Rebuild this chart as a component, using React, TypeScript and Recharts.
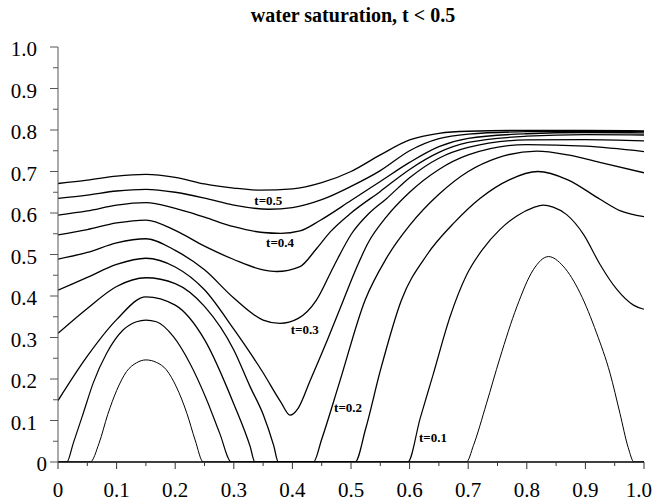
import React from 'react';
import { LineChart, Line, XAxis, YAxis, ReferenceDot } from 'recharts';

const FONT = '"Liberation Serif", "Times New Roman", serif';

// ticks every 0.05, labels on every 0.1
const axisTicks = [0, 0.05, 0.1, 0.15, 0.2, 0.25, 0.3, 0.35, 0.4, 0.45, 0.5, 0.55, 0.6, 0.65, 0.7, 0.75, 0.8, 0.85, 0.9, 0.95, 1.0];
const tickLabels = ['0', '0.1', '0.2', '0.3', '0.4', '0.5', '0.6', '0.7', '0.8', '0.9', '1.0'];

// saturation profiles, [x, s]
const curveT50 = [[0, 0.671], [0.05, 0.679], [0.1, 0.689], [0.15, 0.693], [0.2, 0.686], [0.25, 0.67], [0.3, 0.66], [0.345, 0.655], [0.4, 0.658], [0.45, 0.673], [0.5, 0.7], [0.55, 0.74], [0.6, 0.776], [0.65, 0.792], [0.7, 0.797], [0.8, 0.799], [0.9, 0.799], [1, 0.798]];
const curveT45 = [[0, 0.635], [0.05, 0.643], [0.1, 0.653], [0.15, 0.657], [0.2, 0.65], [0.25, 0.636], [0.3, 0.619], [0.36, 0.609], [0.4, 0.613], [0.45, 0.632], [0.5, 0.664], [0.55, 0.702], [0.6, 0.75], [0.65, 0.779], [0.7, 0.79], [0.8, 0.796], [0.9, 0.797], [1, 0.796]];
const curveT40 = [[0, 0.595], [0.05, 0.605], [0.1, 0.619], [0.15, 0.625], [0.2, 0.611], [0.25, 0.59], [0.3, 0.567], [0.35, 0.553], [0.38, 0.551], [0.413, 0.557], [0.447, 0.582], [0.5, 0.63], [0.55, 0.676], [0.6, 0.722], [0.65, 0.76], [0.7, 0.78], [0.8, 0.791], [0.9, 0.794], [1, 0.793]];
const curveT35 = [[0, 0.547], [0.05, 0.56], [0.1, 0.576], [0.15, 0.583], [0.2, 0.558], [0.25, 0.52], [0.3, 0.488], [0.35, 0.463], [0.373, 0.459], [0.413, 0.471], [0.44, 0.512], [0.465, 0.555], [0.5, 0.6], [0.55, 0.652], [0.6, 0.705], [0.65, 0.746], [0.7, 0.77], [0.8, 0.785], [0.9, 0.789], [1, 0.788]];
const curveT30 = [[0, 0.489], [0.05, 0.505], [0.1, 0.528], [0.15, 0.538], [0.2, 0.51], [0.25, 0.463], [0.3, 0.395], [0.35, 0.342], [0.379, 0.334], [0.41, 0.346], [0.441, 0.39], [0.47, 0.47], [0.501, 0.55], [0.53, 0.598], [0.56, 0.634], [0.6, 0.685], [0.65, 0.732], [0.7, 0.758], [0.8, 0.776], [0.9, 0.777], [1, 0.774]];
const curveT25 = [[0, 0.414], [0.05, 0.445], [0.1, 0.476], [0.15, 0.491], [0.2, 0.47], [0.25, 0.415], [0.3, 0.32], [0.35, 0.215], [0.38, 0.145], [0.396, 0.113], [0.41, 0.13], [0.43, 0.195], [0.46, 0.295], [0.487, 0.39], [0.51, 0.47], [0.53, 0.53], [0.56, 0.59], [0.6, 0.65], [0.65, 0.705], [0.7, 0.74], [0.8, 0.765], [0.9, 0.761], [1, 0.748]];
const curveT20 = [[0, 0.31], [0.05, 0.37], [0.1, 0.423], [0.15, 0.444], [0.2, 0.43], [0.25, 0.375], [0.3, 0.27], [0.328, 0.181], [0.35, 0.115], [0.368, 0.04], [0.376, 0], [0.436, 0], [0.45, 0.055], [0.48, 0.19], [0.524, 0.39], [0.56, 0.49], [0.6, 0.57], [0.65, 0.645], [0.7, 0.7], [0.75, 0.733], [0.817, 0.749], [0.87, 0.74], [0.93, 0.72], [1, 0.697]];
const curveT15 = [[0, 0.148], [0.05, 0.255], [0.1, 0.343], [0.15, 0.398], [0.2, 0.378], [0.25, 0.295], [0.3, 0.14], [0.328, 0.037], [0.336, 0], [0.507, 0], [0.525, 0.08], [0.55, 0.22], [0.586, 0.39], [0.63, 0.5], [0.677, 0.578], [0.72, 0.635], [0.77, 0.68], [0.819, 0.7], [0.87, 0.68], [0.925, 0.633], [0.96, 0.605], [1, 0.591]];
const curveT10 = [[0, 0], [0.015, 0], [0.026, 0.045], [0.043, 0.117], [0.06, 0.19], [0.083, 0.262], [0.111, 0.318], [0.134, 0.338], [0.15, 0.342], [0.168, 0.338], [0.197, 0.302], [0.225, 0.238], [0.254, 0.149], [0.276, 0.069], [0.296, 0], [0.597, 0], [0.618, 0.105], [0.64, 0.21], [0.669, 0.35], [0.697, 0.45], [0.726, 0.515], [0.754, 0.56], [0.783, 0.593], [0.811, 0.613], [0.828, 0.619], [0.845, 0.614], [0.868, 0.596], [0.897, 0.548], [0.925, 0.476], [0.953, 0.417], [0.982, 0.378], [1, 0.368]];
const curveT05 = [[0, 0], [0.055, 0], [0.07, 0.045], [0.085, 0.115], [0.1, 0.172], [0.117, 0.218], [0.134, 0.239], [0.15, 0.246], [0.168, 0.24], [0.185, 0.222], [0.202, 0.181], [0.22, 0.117], [0.234, 0.053], [0.248, 0], [0.697, 0], [0.709, 0.04], [0.731, 0.14], [0.754, 0.25], [0.783, 0.374], [0.811, 0.463], [0.837, 0.495], [0.862, 0.472], [0.891, 0.407], [0.919, 0.311], [0.942, 0.214], [0.959, 0.117], [0.973, 0.035], [0.983, 0], [1, 0]];

const series = [
  { id: 't50', points: curveT50, width: 1.3 },
  { id: 't45', points: curveT45, width: 1.3 },
  { id: 't40', points: curveT40, width: 1.3 },
  { id: 't35', points: curveT35, width: 1.3 },
  { id: 't30', points: curveT30, width: 1.3 },
  { id: 't25', points: curveT25, width: 1.3 },
  { id: 't20', points: curveT20, width: 1.3 },
  { id: 't15', points: curveT15, width: 1.3 },
  { id: 't10', points: curveT10, width: 1.2 },
  { id: 't05', points: curveT05, width: 1.0 },
];

const curveLabels = [
  { text: 't=0.5', x: 0.359, y: 0.631 },
  { text: 't=0.4', x: 0.379, y: 0.528 },
  { text: 't=0.3', x: 0.421, y: 0.32 },
  { text: 't=0.2', x: 0.495, y: 0.132 },
  { text: 't=0.1', x: 0.64, y: 0.059 },
];

const tickIndex = (v: number) => Math.round(v * 20);

function XTick(props: any) {
  const { x, y, payload } = props;
  const i = tickIndex(payload.value);
  const major = i % 2 === 0;
  const last = i === 20;
  return (
    <g>
      <line x1={x} y1={y} x2={x} y2={y + (major ? 7 : 4)} stroke="#333" strokeWidth={1} />
      {major && (
        <text
          x={last ? x + 8 : x} y={y + 35} textAnchor={last ? 'end' : 'middle'}
          fontSize={21} fontFamily={FONT} fill="#000"
        >
          {tickLabels[i / 2]}
        </text>
      )}
    </g>
  );
}

function YTick(props: any) {
  const { x, y, payload } = props;
  const i = tickIndex(payload.value);
  const major = i % 2 === 0;
  return (
    <g>
      <line x1={x - (major ? 8 : 5)} y1={y} x2={x} y2={y} stroke="#555" strokeWidth={1} />
      {major && (
        <text x={i === 0 ? x - 11 : x - 21} y={y + 9} textAnchor="end" fontSize={21} fontFamily={FONT} fill="#000">
          {tickLabels[i / 2]}
        </text>
      )}
    </g>
  );
}

export default function App() {
  return (
    <div style={{ position: 'absolute', left: 0, top: 0, width: 652, height: 504, background: '#fff' }}>
      <div
        style={{
          position: 'absolute', left: 353, top: 5, transform: 'translateX(-50%)', whiteSpace: 'nowrap',
          fontFamily: FONT, fontWeight: 700, fontSize: 20, lineHeight: '20px', color: '#000',
        }}
      >
        water saturation, t &lt; 0.5
      </div>
      <LineChart width={652} height={504} margin={{ top: 47, right: 8, bottom: 0, left: 0 }}>
        <XAxis
          dataKey="x" type="number" domain={[0, 1]} ticks={axisTicks} interval={0}
          height={42} tickSize={0} tickMargin={0} tickLine={false} tick={XTick}
          axisLine={{ stroke: '#000', strokeWidth: 1.3 }} allowDataOverflow
        />
        <XAxis
          xAxisId="top" orientation="top" type="number" domain={[0, 1]} height={0}
          tick={false} tickLine={false} axisLine={{ stroke: '#000', strokeWidth: 1.5 }}
        />
        <YAxis
          type="number" domain={[0, 1]} ticks={axisTicks} interval={0} width={58}
          tickSize={0} tickMargin={0} tickLine={false} tick={YTick}
          axisLine={{ stroke: '#555', strokeWidth: 1 }} allowDataOverflow
        />
        <YAxis
          yAxisId="right" orientation="right" type="number" domain={[0, 1]} width={0}
          tick={false} tickLine={false} axisLine={{ stroke: '#000', strokeWidth: 1.5 }}
        />
        {series.map((s) => (
          <Line
            key={s.id}
            data={s.points.map(([x, y]) => ({ x, y }))}
            dataKey="y"
            type="monotone"
            stroke="#000"
            strokeWidth={s.width}
            dot={false}
            activeDot={false}
            isAnimationActive={false}
          />
        ))}
        {curveLabels.map((l) => (
          <ReferenceDot
            key={l.text}
            x={l.x}
            y={l.y}
            r={1}
            shape={(p: any) => (
              <text x={p.cx} y={p.cy + 4.5} textAnchor="middle" fontSize={13} fontWeight={700} fontFamily={FONT} fill="#000">
                {l.text}
              </text>
            )}
          />
        ))}
      </LineChart>
    </div>
  );
}
